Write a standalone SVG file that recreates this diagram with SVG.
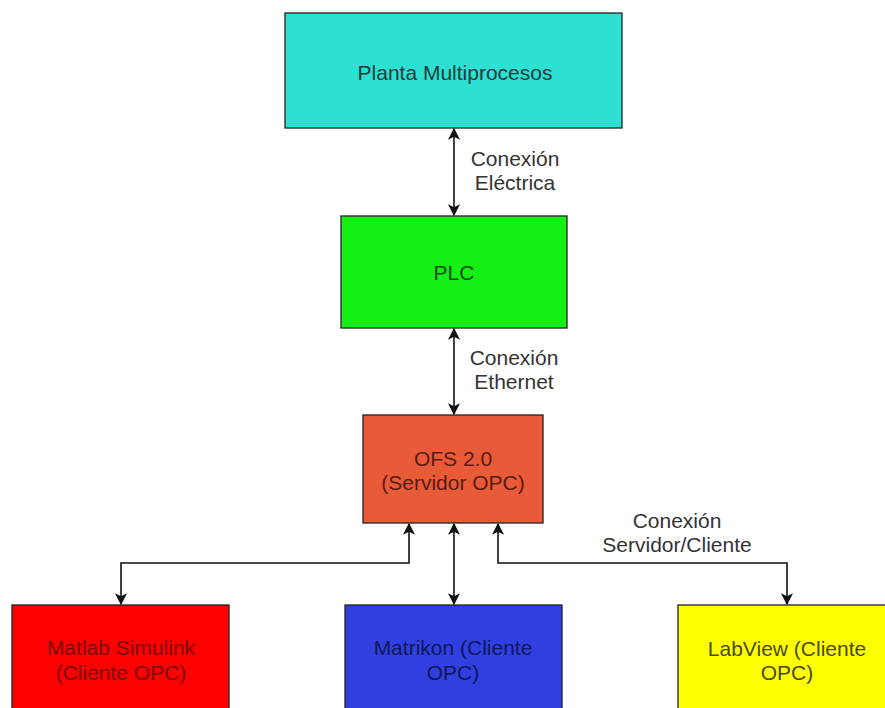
<svg xmlns="http://www.w3.org/2000/svg" width="885" height="708" viewBox="0 0 885 708">
<defs>
<style>
.box{stroke:#222;stroke-width:1.3}
.t{font-family:"Liberation Sans",Arial,sans-serif;font-size:21px;text-anchor:middle}
.lbl{fill:#333}
.edge{fill:none;stroke:#111;stroke-width:1.6}
</style>
<marker id="ah" viewBox="0 0 10 10" refX="9" refY="5" markerWidth="12" markerHeight="12" markerUnits="userSpaceOnUse" orient="auto-start-reverse">
<path d="M0,0 L10,5 L0,10 L2.5,5 Z" fill="#111"/>
</marker>
</defs>
<rect width="885" height="708" fill="#ffffff"/>
<g id="planta">
<rect class="box" x="285" y="13" width="337" height="115" fill="#2ee0d2"/>
<text class="t" x="455" y="80" fill="#173f3c">Planta Multiprocesos</text>
</g>
<g id="plc">
<rect class="box" x="341" y="216" width="226" height="112" fill="#14f014"/>
<text class="t" x="454" y="280" fill="#0f4a0f">PLC</text>
</g>
<g id="ofs">
<rect class="box" x="363" y="415" width="180" height="108" fill="#e85a38"/>
<text class="t" x="453" y="466" fill="#5a1a10">OFS 2.0</text>
<text class="t" x="453" y="490" fill="#5a1a10">(Servidor OPC)</text>
</g>
<g id="matlab">
<rect class="box" x="12" y="605" width="217" height="115" fill="#ff0000"/>
<text class="t" x="121" y="655" fill="#7a0a0a">Matlab Simulink</text>
<text class="t" x="121" y="680" fill="#7a0a0a">(Cliente OPC)</text>
</g>
<g id="matrikon">
<rect class="box" x="345" y="605" width="217" height="115" fill="#2f3fe0"/>
<text class="t" x="453" y="655" fill="#10185a">Matrikon (Cliente</text>
<text class="t" x="453" y="680" fill="#10185a">OPC)</text>
</g>
<g id="labview">
<rect class="box" x="678" y="605" width="217" height="115" fill="#ffff00"/>
<text class="t" x="787" y="656" fill="#4a4a10">LabView (Cliente</text>
<text class="t" x="787" y="680" fill="#4a4a10">OPC)</text>
</g>
<g id="connectors">
<path class="edge" d="M454,129 L454,215" marker-start="url(#ah)" marker-end="url(#ah)"/>
<path class="edge" d="M454,329 L454,414" marker-start="url(#ah)" marker-end="url(#ah)"/>
<path class="edge" d="M409,524 L409,563 L121,563 L121,604" marker-start="url(#ah)" marker-end="url(#ah)"/>
<path class="edge" d="M454,524 L454,604" marker-start="url(#ah)" marker-end="url(#ah)"/>
<path class="edge" d="M498,524 L498,563 L787,563 L787,604" marker-start="url(#ah)" marker-end="url(#ah)"/>
<text class="t lbl" x="515" y="166">Conexión</text>
<text class="t lbl" x="515" y="190">Eléctrica</text>
<text class="t lbl" x="514" y="365">Conexión</text>
<text class="t lbl" x="514" y="389">Ethernet</text>
<text class="t lbl" x="677" y="528">Conexión</text>
<text class="t lbl" x="677" y="552">Servidor/Cliente</text>
</g>
</svg>
